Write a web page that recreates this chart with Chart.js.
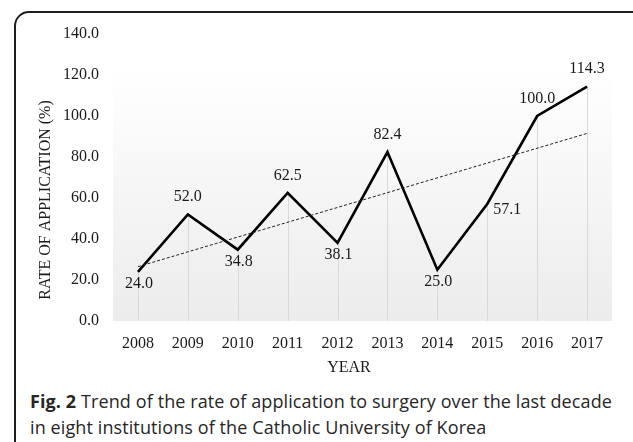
<!DOCTYPE html>
<html><head><meta charset="utf-8">
<script src="https://cdn.jsdelivr.net/npm/chart.js@4"></script>
<style>
html,body{margin:0;padding:0;background:#fff;}
#wrap{position:relative;width:633px;height:442px;overflow:hidden;}
#frame{position:absolute;left:14px;top:11px;width:640px;height:446px;border:2px solid #1e1e1e;border-radius:15px;box-sizing:border-box;}
#holder{position:absolute;left:0;top:0;width:633px;height:385px;}
.cap{position:absolute;left:30px;font-family:"Open Sans";font-size:18px;color:#262626;white-space:nowrap;line-height:26px;}
.cap b{font-weight:700;}
</style></head><body>
<div id="wrap">
<div id="frame"></div>
<div id="holder"><canvas id="c" width="633" height="385"></canvas></div>
<div class="cap" id="cap1" style="top:388px"><b>Fig. 2</b> Trend of the rate of application to surgery over the last decade</div>
<div class="cap" id="cap2" style="top:414px">in eight institutions of the Catholic University of Korea</div>
</div>
<script>
// ---- data ----
const years = ['2008','2009','2010','2011','2012','2013','2014','2015','2016','2017'];
const rates = [24.0, 52.0, 34.8, 62.5, 38.1, 82.4, 25.0, 57.1, 100.0, 114.3];
const trendEnds = [26.5, null, null, null, null, null, null, null, null, 91.5];
const yTitle = 'RATE OF APPLICATION (%)';
const xTitle = 'YEAR';

// caption fit
(function(){
  const c1 = document.getElementById('cap1'), c2 = document.getElementById('cap2');
  const target = 582;
  const w = c1.getBoundingClientRect().width;
  const n = c1.textContent.length;
  const ls = (target - w) / n;
  c1.style.letterSpacing = ls + 'px';
  c2.style.letterSpacing = ls + 'px';
})();

const SERIF = '"Liberation Serif", "Times New Roman", serif';

const bgPlugin = {
  id: 'bgGrad',
  beforeDraw(chart) {
    const {ctx, chartArea: a} = chart;
    const top = a.top + 33;
    const g = ctx.createLinearGradient(0, top, 0, a.bottom);
    g.addColorStop(0, '#ffffff');
    g.addColorStop(1, '#ececec');
    ctx.save();
    ctx.fillStyle = g;
    ctx.fillRect(a.left, top, a.right - a.left, a.bottom - top);
    ctx.restore();
  }
};

const dropPlugin = {
  id: 'dropLines',
  beforeDatasetsDraw(chart) {
    const {ctx, chartArea: a} = chart;
    const meta = chart.getDatasetMeta(0);
    ctx.save();
    ctx.strokeStyle = '#d9d9d9';
    ctx.lineWidth = 1;
    meta.data.forEach(p => {
      const x = Math.round(p.x) + 0.5;
      ctx.beginPath();
      ctx.moveTo(x, p.y);
      ctx.lineTo(x, a.bottom);
      ctx.stroke();
    });
    ctx.restore();
  }
};

const labelPlugin = {
  id: 'valLabels',
  afterDatasetsDraw(chart, args, opts) {
    const {ctx} = chart;
    const meta = chart.getDatasetMeta(0);
    const ds = chart.data.datasets[0].data;
    ctx.save();
    ctx.font = '16px ' + SERIF;
    ctx.fillStyle = '#1a1a1a';
    ctx.textAlign = 'center';
    ctx.textBaseline = 'middle';
    meta.data.forEach((p, i) => {
      const pos = opts.place[i];
      let dx = 0, dy = 0;
      if (pos === 'above') { dy = -17.5; }
      else if (pos === 'below') { dy = 12; dx = 1; }
      else if (pos === 'right') { dx = 20; dy = 6; }
      ctx.fillText(ds[i].toFixed(1), p.x + dx, p.y + dy);
    });
    ctx.restore();
  }
};

const titlePlugin = {
  id: 'axisTitles',
  afterDraw(chart) {
    const {ctx} = chart;
    ctx.save();
    ctx.font = '16px ' + SERIF;
    ctx.fillStyle = '#1a1a1a';
    ctx.textAlign = 'center';
    ctx.textBaseline = 'middle';
    ctx.fillText(xTitle, 349, 368);
    ctx.translate(46, 200);
    ctx.rotate(-Math.PI / 2);
    ctx.fillText(yTitle, 0, 0);
    ctx.restore();
  }
};

new Chart(document.getElementById('c'), {
  type: 'line',
  data: {
    labels: years,
    datasets: [
      {
        data: rates,
        borderColor: '#000',
        borderWidth: 2.6,
        pointRadius: 0,
        tension: 0,
        order: 1
      },
      {
        data: trendEnds,
        spanGaps: true,
        borderColor: '#222',
        borderWidth: 1,
        borderDash: [3, 2],
        pointRadius: 0,
        order: 0
      }
    ]
  },
  options: {
    responsive: false,
    animation: false,
    events: [],
    layout: { padding: { top: 34, right: 21, bottom: 0, left: 0 } },
    plugins: {
      legend: { display: false },
      tooltip: { enabled: false },
      valLabels: { place: ['below','above','below','above','below','above','below','right','above','above'] }
    },
    scales: {
      x: {
        offset: true,
        afterFit(s) { s.height = 64; },
        grid: { display: false, drawTicks: false },
        border: { display: false },
        ticks: { padding: 13, color: '#1a1a1a', font: { family: SERIF, size: 16 }, maxRotation: 0 }
      },
      y: {
        min: 0, max: 140,
        afterFit(s) { s.width = 113; },
        grid: { display: false, drawTicks: false },
        border: { display: false },
        ticks: {
          stepSize: 20, padding: 14, color: '#1a1a1a',
          font: { family: SERIF, size: 16 },
          callback: v => Number(v).toFixed(1)
        }
      }
    }
  },
  plugins: [bgPlugin, dropPlugin, labelPlugin, titlePlugin]
});
</script>
</body></html>
